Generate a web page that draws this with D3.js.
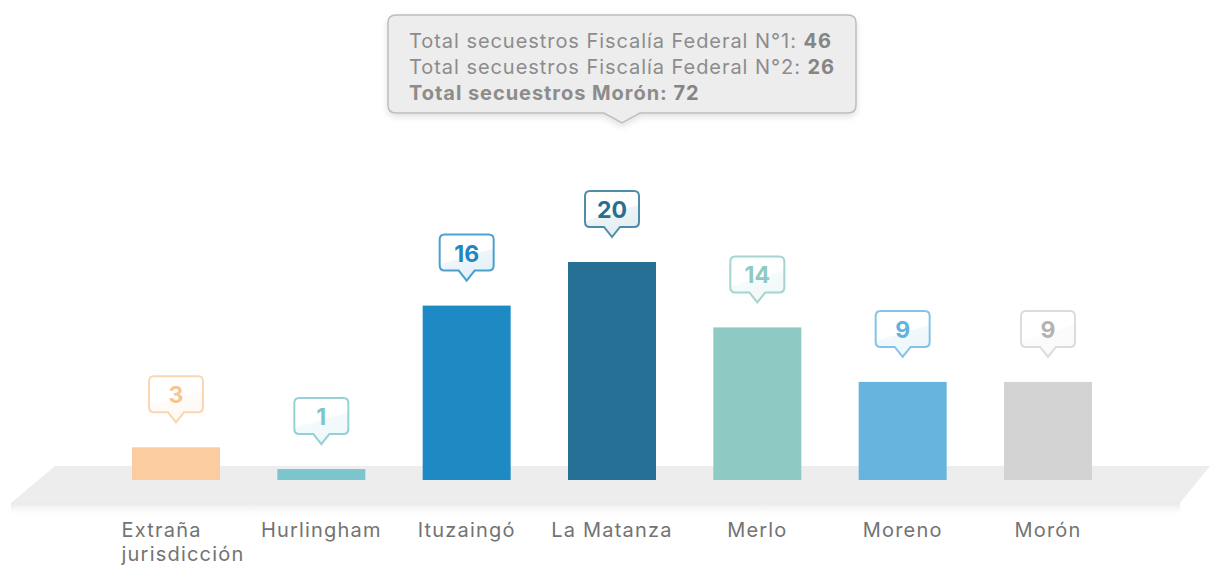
<!DOCTYPE html>
<html><head><meta charset="utf-8">
<script src="https://cdn.jsdelivr.net/npm/d3@7"></script>
<style>
html,body{margin:0;padding:0;background:#fff;}
svg{display:block;font-family:Inter,"Open Sans",sans-serif;}
</style></head>
<body><svg id="chart" width="1210" height="567"></svg>
<script>
const categories = ["Extraña jurisdicción","Hurlingham","Ituzaingó","La Matanza","Merlo","Moreno","Morón"];
const values = [3,1,16,20,14,9,9];
const barColors = ["#FACC9F","#7CC5CC","#1E8AC4","#257094","#8ECAC3","#67B5DF","#D3D3D3"];
const textColors = ["#F7C593","#7CC5CC","#2185C0","#266F93","#8ECAC3","#62B2DE","#B3B3B3"];
const tooltipLines = [
  {label:"Total secuestros Fiscalía Federal N°1: ", value:"46", bold:false},
  {label:"Total secuestros Fiscalía Federal N°2: ", value:"26", bold:false},
  {label:"Total secuestros Morón: ", value:"72", bold:true}
];

const svg = d3.select("#chart");
const defs = svg.append("defs");

const x = d3.scalePoint().domain(categories).range([176,1048]);
const y = d3.scaleLinear().domain([0,20]).range([480,262]);
const barW = 88;

// floor shadow
const sg = defs.append("linearGradient").attr("id","floorShadow").attr("x1",0).attr("y1",0).attr("x2",0).attr("y2",1);
sg.append("stop").attr("offset","0%").attr("stop-color","#e6e6e6").attr("stop-opacity",0.9);
sg.append("stop").attr("offset","100%").attr("stop-color","#ffffff").attr("stop-opacity",0);
svg.append("rect").attr("x",11).attr("y",503).attr("width",1169).attr("height",14).attr("fill","url(#floorShadow)");
// floor
svg.append("polygon").attr("points","55,466 1210,466 1180,503 11,503").attr("fill","#EDEDED");

// bars
svg.selectAll("rect.bar").data(values).join("rect").attr("class","bar")
  .attr("x",(d,i)=>x(categories[i])-barW/2)
  .attr("y",d=>y(d))
  .attr("width",barW)
  .attr("height",d=>y(0)-y(d))
  .attr("fill",(d,i)=>barColors[i]);

// callouts
const bw=54, bh=36, r=5, th=10, tw=8;
values.forEach((v,i)=>{
  const cx = x(categories[i]);
  const top = y(v) - 71;
  const g = svg.append("g");
  const gid = "cg"+i;
  const lg = defs.append("linearGradient").attr("id",gid).attr("x1",0).attr("y1",0).attr("x2",0.35).attr("y2",1);
  lg.append("stop").attr("offset","0%").attr("stop-color","#fff");
  lg.append("stop").attr("offset","58%").attr("stop-color","#fff");
  lg.append("stop").attr("offset","58%").attr("stop-color",barColors[i]).attr("stop-opacity",0.08);
  lg.append("stop").attr("offset","100%").attr("stop-color",barColors[i]).attr("stop-opacity",0.12);
  const L=cx-bw/2, R=cx+bw/2, T=top, B=top+bh;
  const p = `M${L+r},${T} H${R-r} Q${R},${T} ${R},${T+r} V${B-r} Q${R},${B} ${R-r},${B} H${cx+tw} L${cx},${B+th} L${cx-tw},${B} H${L+r} Q${L},${B} ${L},${B-r} V${T+r} Q${L},${T} ${L+r},${T} Z`;
  g.append("path").attr("d",p).attr("fill",`url(#${gid})`).attr("stroke",barColors[i]).attr("stroke-opacity",0.8).attr("stroke-width",2);
  g.append("text").attr("x",cx).attr("y",T+27).attr("text-anchor","middle")
    .attr("font-size",23).attr("font-weight",700).attr("fill",textColors[i]).text(v);
});

// axis labels
const labels = svg.append("g").attr("fill","#737373").attr("font-size",20).attr("letter-spacing","1.2px");
categories.forEach((c,i)=>{
  const cx = x(c);
  const words = c.split(" ");
  if (c.length > 12 && words.length > 1) {
    const t = labels.append("text").attr("y",537).attr("text-anchor","start");
    words.forEach((w,k)=>t.append("tspan").attr("dy",k?24:0).text(w));
    const tsp = t.selectAll("tspan").nodes();
    const maxW = d3.max(tsp, n=>n.getComputedTextLength());
    t.selectAll("tspan").attr("x", cx - maxW/2 + 7);
  } else {
    labels.append("text").attr("x",cx).attr("y",537).attr("text-anchor","middle").text(c);
  }
});

// tooltip
const tf = defs.append("filter").attr("id","tshadow").attr("x","-10%").attr("y","-10%").attr("width","120%").attr("height","140%");
tf.append("feDropShadow").attr("dx",0).attr("dy",3).attr("stdDeviation",3).attr("flood-color","#000").attr("flood-opacity",0.12);
const tx=622, L=388, R=856, T=15, B=113, rr=8, ttw=18;
const tp = `M${L+rr},${T} H${R-rr} Q${R},${T} ${R},${T+rr} V${B-rr} Q${R},${B} ${R-rr},${B} H${tx+ttw} L${tx},${B+10} L${tx-ttw},${B} H${L+rr} Q${L},${B} ${L},${B-rr} V${T+rr} Q${L},${T} ${L+rr},${T} Z`;
svg.append("path").attr("d",tp).attr("fill","#EDEDED").attr("stroke","#BDBDBD").attr("stroke-width",1.5).attr("filter","url(#tshadow)");
const tt = svg.append("g").attr("font-size",20).attr("fill","#8C8C8C").attr("letter-spacing","0.95px");
tooltipLines.forEach((l,k)=>{
  const t = tt.append("text").attr("x",409).attr("y",48+k*26);
  t.append("tspan").attr("font-weight",l.bold?700:400).text(l.label);
  t.append("tspan").attr("font-weight",700).attr("fill","#858585").text(l.value);
});
</script></body></html>
